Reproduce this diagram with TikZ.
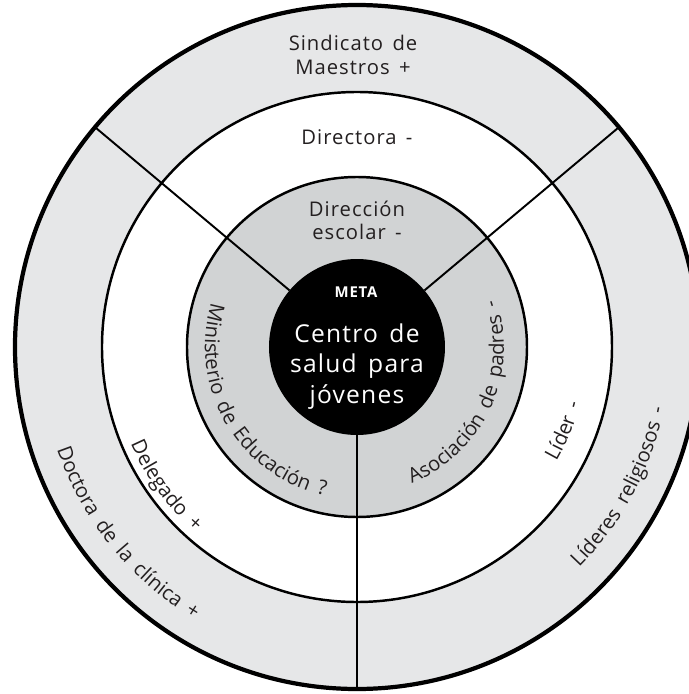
\documentclass[tikz,border=0pt]{standalone}
\usepackage{fontspec}
\setmainfont{Open Sans}[LetterSpace=5, WordSpace=1.5]
\usepackage{xcolor}
\usetikzlibrary{positioning, decorations.text}

\definecolor{ink}{HTML}{231F20}
\definecolor{outerring}{HTML}{E6E7E8}
\definecolor{innerring}{HTML}{D1D3D4}
\newcommand{\ringfont}{\fontsize{11.5}{13}\selectfont}
\newcommand{\goalfont}{\fontsize{14}{17}\selectfont}

\tikzset{
    ring/.style={line width=1.4pt},
    spoke/.style={line width=1.1pt},
    ringtext/.style={text=ink, font=\ringfont, inner sep=0pt, anchor=base},
    goaltext/.style={text=white, font=\goalfont, inner sep=0pt, anchor=base},
    arctext/.style={decorate, decoration={text along path, text align=center,
        text color=ink, text={|\ringfont|#1}}}
}

\begin{document}
\begin{tikzpicture}[x=0.02cm, y=0.02cm]
        \useasboundingbox (-357, -347) rectangle (332, 347);

        \fill[outerring] (0, 0) circle (342);
        \fill[white] (0, 0) circle (255);
        \fill[innerring] (0, 0) circle (170);

        \foreach \a in {40, 140, 270} {
            \draw[spoke] (\a:88) -- (\a:342);
        }

        \draw[ring] (0, 0) circle (255);
        \draw[ring] (0, 0) circle (170);
        \draw[line width=2.4pt] (0, 0) circle (342);
        \fill[black] (0, 0) circle (88);

        \node[ringtext] (sindicato) at (-4, 296.5) {Sindicato de};
        \node[ringtext] (maestros) at (-4, 273) {Maestros +};
        \node[ringtext] (directora) at (0, 203) {Directora -};
        \node[ringtext] (direccion) at (0, 131) {Dirección};
        \node[ringtext] (escolar) at (0, 107.5) {escolar -};

        \node[goaltext, font=\fontsize{8.5}{10}\selectfont\bfseries] (meta) at (-1, 50) {META};
        \node[goaltext] (centro) at (0, 5) {Centro de};
        \node[goaltext] (salud) at (0, -25.5) {salud para};
        \node[goaltext] (jovenes) at (0, -56) {jóvenes};

        \path[arctext={Ministerio de Educación ?}] (140:152) arc[start angle=140, end angle=281, radius=152];
        \path[arctext={Asociación de padres -}] (-94.5:147) arc[start angle=-94.5, end angle=45.5, radius=147];
        \path[arctext={Delegado +}] (181:246) arc[start angle=181, end angle=251, radius=246];
        \path[arctext={Doctora de la clínica +}] (179:317) arc[start angle=179, end angle=259, radius=317];
        \path[arctext={Líder -}] (-52:230) arc[start angle=-52, end angle=8, radius=230];
        \path[arctext={Líderes religiosos -}] (-68:313) arc[start angle=-68, end angle=12, radius=313];
    \end{tikzpicture}
\end{document}
